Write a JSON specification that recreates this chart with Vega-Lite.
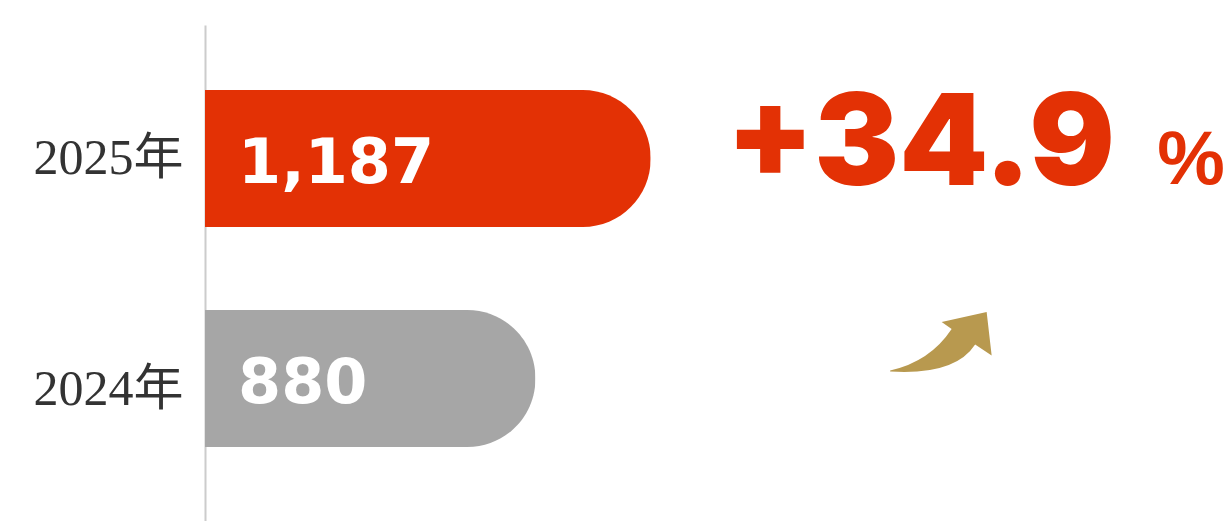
{
  "$schema": "https://vega.github.io/schema/vega-lite/v6.json",
  "autosize": "none",
  "width": 1025,
  "height": 496,
  "padding": {"left": 205, "top": 25, "right": 0, "bottom": 0},
  "background": "#ffffff",
  "config": {"view": {"stroke": null}},
  "encoding": {
    "y": {
      "field": "year",
      "type": "nominal",
      "scale": {"domain": ["2025年", "2024年"], "paddingInner": 0.377, "paddingOuter": 0.316, "align": 0.468},
      "axis": {
        "title": null,
        "ticks": false,
        "grid": false,
        "domainColor": "#cccccc",
        "domainWidth": 2,
        "labelFont": "'Liberation Serif', 'Noto Sans CJK JP'",
        "labelFontSize": 50,
        "labelColor": "#333333",
        "labelPadding": 22,
        "labelOffset": {"condition": {"test": "datum.value === '2024年'", "value": 11}, "value": 0}
      }
    }
  },
  "layer": [
    {
      "data": {"values": [
        {"year": "2025年", "value": 1187, "label": "1,187"},
        {"year": "2024年", "value": 880, "label": "880"}
      ]},
      "layer": [
        {
          "mark": {"type": "bar", "cornerRadiusEnd": 68},
          "encoding": {
            "x": {"field": "value", "type": "quantitative", "scale": {"domain": [0, 2730], "nice": false, "zero": true}, "axis": null},
            "color": {"field": "year", "type": "nominal", "scale": {"domain": ["2025年", "2024年"], "range": ["#E33105", "#A6A6A6"]}, "legend": null}
          }
        },
        {
          "mark": {"type": "text", "align": "left", "baseline": "alphabetic", "dx": 33, "dy": 24, "font": "DejaVu Sans", "fontWeight": "bold", "fontSize": 62, "color": "#ffffff"},
          "encoding": {
            "x": {"datum": 0, "type": "quantitative"},
            "text": {"field": "label"}
          }
        }
      ]
    },
    {
      "data": {"values": [
        {"year": "2025年", "pos": 1388, "text": "+34.9"}
      ]},
      "mark": {"type": "text", "align": "left", "baseline": "alphabetic", "dy": 26, "font": "Inter", "fontWeight": 900, "fontSize": 127, "color": "#E33105"},
      "encoding": {
        "x": {"field": "pos", "type": "quantitative"},
        "text": {"field": "text"}
      }
    },
    {
      "data": {"values": [
        {"year": "2025年", "pos": 2536, "text": "%"}
      ]},
      "mark": {"type": "text", "align": "left", "baseline": "alphabetic", "dy": 25, "font": "Liberation Sans", "fontWeight": "bold", "fontSize": 76, "color": "#E33105"},
      "encoding": {
        "x": {"field": "pos", "type": "quantitative"},
        "text": {"field": "text"}
      }
    },
    {
      "data": {"values": [
        {"year": "2024年", "pos": 1958}
      ]},
      "mark": {
        "type": "point",
        "filled": true,
        "size": 10000,
        "yOffset": -38,
        "opacity": 1,
        "color": "#B8994F",
        "shape": "M -1 0.6 Q -0.2 0.42 0.23 -0.23 L 0.03 -0.37 L 0.93 -0.57 L 1.03 0.3 L 0.7 0.08 Q 0.3 0.7 -1 0.62 Z"
      },
      "encoding": {
        "x": {"field": "pos", "type": "quantitative"}
      }
    }
  ]
}
